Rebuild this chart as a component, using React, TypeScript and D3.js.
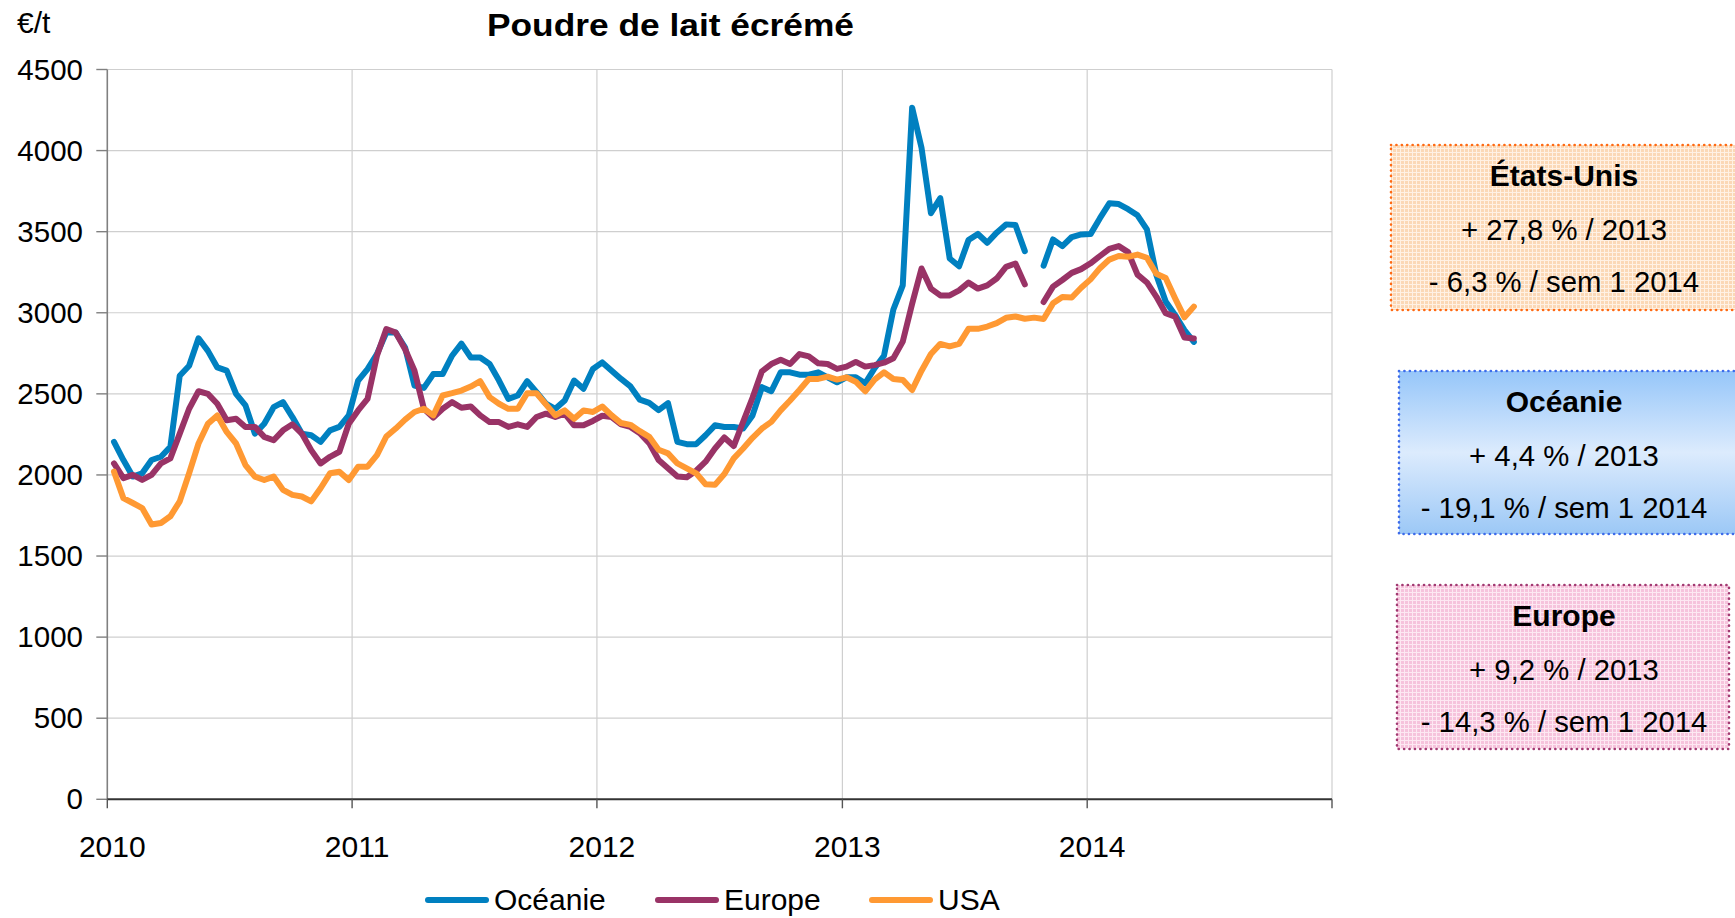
import * as d3 from "d3";

// biweekly prices, €/t, from Jan 2010 to mid-2014 (null = no quote)
const oceanie: (number | null)[] = [
  2204, 2092, 1990, 2010, 2092, 2112, 2173, 2612, 2673, 2843,
  2765, 2663, 2643, 2500, 2429, 2255, 2316, 2418, 2449, 2357,
  2255, 2245, 2204, 2275, 2296, 2367, 2582, 2653, 2745, 2878,
  2878, 2786, 2551, 2537, 2622, 2622, 2735, 2810, 2724, 2724,
  2684, 2582, 2469, 2490, 2578, 2510, 2439, 2408, 2459, 2582,
  2531, 2653, 2694, 2643, 2592, 2546, 2464, 2444, 2400, 2443,
  2204, 2190, 2190, 2245, 2306, 2296, 2296, 2286, 2367, 2541,
  2516, 2633, 2633, 2618, 2618, 2633, 2602, 2571, 2602, 2602,
  2565, 2658, 2735, 3020, 3169, 4264, 4017, 3614, 3707, 3335,
  3287, 3448, 3486, 3432, 3494, 3545, 3541, 3380, null, 3290,
  3452, 3411, 3467, 3483, 3485, 3583, 3675, 3670, 3639, 3601,
  3514, 3235, 3069, 2987, 2893, 2821,
];

const europe: (number | null)[] = [
  2071, 1980, 2000, 1969, 2000, 2071, 2102, 2255, 2408, 2516,
  2500, 2439, 2337, 2347, 2296, 2296, 2235, 2214, 2275, 2312,
  2255, 2153, 2071, 2112, 2143, 2316, 2398, 2469, 2735, 2900,
  2878, 2775, 2643, 2408, 2353, 2408, 2449, 2414, 2422, 2367,
  2326, 2326, 2296, 2312, 2296, 2357, 2378, 2357, 2378, 2306,
  2306, 2333, 2365, 2357, 2312, 2296, 2257, 2196, 2092, 2041,
  1990, 1986, 2026, 2082, 2163, 2231, 2178, 2327, 2476, 2639,
  2684, 2710, 2684, 2745, 2731, 2688, 2684, 2654, 2668, 2697,
  2668, 2677, 2692, 2720, 2822, 3056, 3273, 3149, 3107, 3107,
  3138, 3186, 3149, 3169, 3211, 3283, 3304, 3175, null, 3066,
  3161, 3202, 3246, 3269, 3305, 3350, 3394, 3411, 3374, 3235,
  3187, 3100, 2997, 2976, 2848, 2842,
];

const usa: (number | null)[] = [
  2020, 1857, 1827, 1796, 1694, 1704, 1745, 1837, 2010, 2194,
  2316, 2367, 2265, 2194, 2061, 1990, 1969, 1990, 1908, 1877,
  1867, 1837, 1918, 2010, 2020, 1969, 2051, 2051, 2122, 2237,
  2286, 2341, 2388, 2408, 2367, 2490, 2504, 2520, 2545, 2578,
  2480, 2439, 2408, 2408, 2504, 2504, 2435, 2367, 2398, 2347,
  2398, 2388, 2422, 2367, 2320, 2309, 2270, 2235, 2155, 2133,
  2071, 2041, 2010, 1943, 1939, 2006, 2102, 2163, 2229, 2286,
  2327, 2398, 2459, 2524, 2592, 2592, 2606, 2588, 2602, 2575,
  2516, 2588, 2633, 2592, 2586, 2524, 2643, 2746, 2808, 2793,
  2808, 2901, 2901, 2915, 2936, 2969, 2977, 2963, 2970, 2962,
  3058, 3097, 3094, 3154, 3206, 3275, 3328, 3350, 3345, 3359,
  3339, 3241, 3214, 3090, 2972, 3038,
];

const yTicks = [0, 500, 1000, 1500, 2000, 2500, 3000, 3500, 4000, 4500];
const years = [2010, 2011, 2012, 2013, 2014];

const seriesNames = ["Océanie", "Europe", "USA"];
const seriesColors = ["#0080c0", "#993366", "#ff9933"];

const boxTitles = ["États-Unis", "Océanie", "Europe"];
const boxYear = ["+ 27,8 % / 2013", "+ 4,4 % / 2013", "+ 9,2 % / 2013"];
const boxSem = ["- 6,3 % / sem 1 2014", "- 19,1 % / sem 1 2014", "- 14,3 % / sem 1 2014"];

const start = new Date(2010, 0, 11);
const dates = oceanie.map((_, i) => d3.timeDay.offset(start, 14 * i));

export default function App() {
  const width = 1735;
  const height = 918;
  const left = 107.3;
  const right = 1332;
  const top = 69.5;
  const bottom = 799.3;

  const x = d3.scaleTime()
    .domain([new Date(2010, 0, 1), new Date(2015, 0, 1)])
    .range([left, right]);
  const y = d3.scaleLinear().domain([0, 4500]).range([bottom, top]);

  const line = d3.line<number | null>()
    .defined((d) => d != null)
    .x((_, i) => x(dates[i]))
    .y((d) => y(d as number));

  const allSeries = [oceanie, europe, usa];
  const font = "Liberation Sans, Arial, sans-serif";

  // boxes on the right
  const boxes = [
    { x: 1391, y: 145, w: 350, h: 165, fill: "url(#peach)", stroke: "#ff6a13" },
    { x: 1399, y: 371, w: 342, h: 163, fill: "url(#blueGrad)", stroke: "#3d6bea" },
    { x: 1397, y: 585, w: 332, h: 164, fill: "url(#pink)", stroke: "#a23a72" },
  ];
  const boxCx = 1564;

  const legendX = [428, 658, 872];

  return (
    <svg width={width} height={height} style={{ position: "absolute", left: 0, top: 0, background: "#fff" }}
      fontFamily={font}>
      <defs>
        <pattern id="peach" width={4} height={4} patternUnits="userSpaceOnUse">
          <rect width={4} height={4} fill="#fbd8b6" />
          <path d="M0 0.5H4M0.5 0V4" stroke="#fff1e4" strokeWidth={1} />
        </pattern>
        <pattern id="pink" width={4} height={4} patternUnits="userSpaceOnUse">
          <rect width={4} height={4} fill="#f6c3dc" />
          <path d="M0 0.5H4M0.5 0V4" stroke="#fde8f2" strokeWidth={1} />
        </pattern>
        <linearGradient id="blueGrad" x1="0" y1="0" x2="0" y2="1">
          <stop offset="0" stopColor="#96c6f9" />
          <stop offset="0.5" stopColor="#dcebfd" />
          <stop offset="1" stopColor="#9cc8f6" />
        </linearGradient>
      </defs>

      {/* grid */}
      {yTicks.filter((t) => t > 0).map((t) => (
        <line key={t} x1={left} x2={right} y1={y(t)} y2={y(t)} stroke="#cfcfcf" strokeWidth={1.2} />
      ))}
      {[...years.slice(1), 2015].map((yr) => (
        <line key={yr} x1={x(new Date(yr, 0, 1))} x2={x(new Date(yr, 0, 1))} y1={top} y2={bottom}
          stroke="#cfcfcf" strokeWidth={1.2} />
      ))}

      {/* axes */}
      <line x1={left} x2={left} y1={top} y2={bottom} stroke="#808080" strokeWidth={1.6} />
      {yTicks.map((t) => (
        <g key={t}>
          <line x1={left - 11} x2={left} y1={y(t)} y2={y(t)} stroke="#808080" strokeWidth={1.4} />
          <text x={83} y={y(t) + 10} textAnchor="end" fontSize={29.5}>{t}</text>
        </g>
      ))}
      <line x1={left} x2={right} y1={bottom} y2={bottom} stroke="#333" strokeWidth={2} />
      {[...years, 2015].map((yr) => (
        <line key={yr} x1={x(new Date(yr, 0, 1))} x2={x(new Date(yr, 0, 1))} y1={bottom} y2={bottom + 9}
          stroke="#555" strokeWidth={1.4} />
      ))}
      {years.map((yr) => (
        <text key={yr} x={x(new Date(yr, 0, 1)) + 5} y={857} textAnchor="middle" fontSize={30}>{yr}</text>
      ))}

      <text x={17} y={33} fontSize={30}>€/t</text>
      <text x={487} y={36} fontSize={31} fontWeight="bold" textLength={367} lengthAdjust="spacingAndGlyphs">
        Poudre de lait écrémé
      </text>

      {/* series */}
      {allSeries.map((s, k) => (
        <path key={k} d={line(s) ?? ""} fill="none" stroke={seriesColors[k]} strokeWidth={6}
          strokeLinejoin="round" strokeLinecap="round" />
      ))}

      {/* legend */}
      {seriesNames.map((n, k) => (
        <g key={n}>
          <line x1={legendX[k]} x2={legendX[k] + 58} y1={900} y2={900} stroke={seriesColors[k]} strokeWidth={6}
            strokeLinecap="round" />
          <text x={legendX[k] + 66} y={910} fontSize={30}>{n}</text>
        </g>
      ))}

      {/* boxes */}
      {boxes.map((b, k) => (
        <g key={k}>
          <rect x={b.x} y={b.y} width={b.w} height={b.h} fill={b.fill} stroke={b.stroke} strokeWidth={2.6}
            strokeDasharray="0.1 5.3" strokeLinecap="round" />
          <text x={boxCx} y={b.y + 41} textAnchor="middle" fontSize={30} fontWeight="bold">{boxTitles[k]}</text>
          <text x={boxCx} y={b.y + 95} textAnchor="middle" fontSize={29.3}>{boxYear[k]}</text>
          <text x={boxCx} y={b.y + 147} textAnchor="middle" fontSize={29.3}>{boxSem[k]}</text>
        </g>
      ))}
    </svg>
  );
}
